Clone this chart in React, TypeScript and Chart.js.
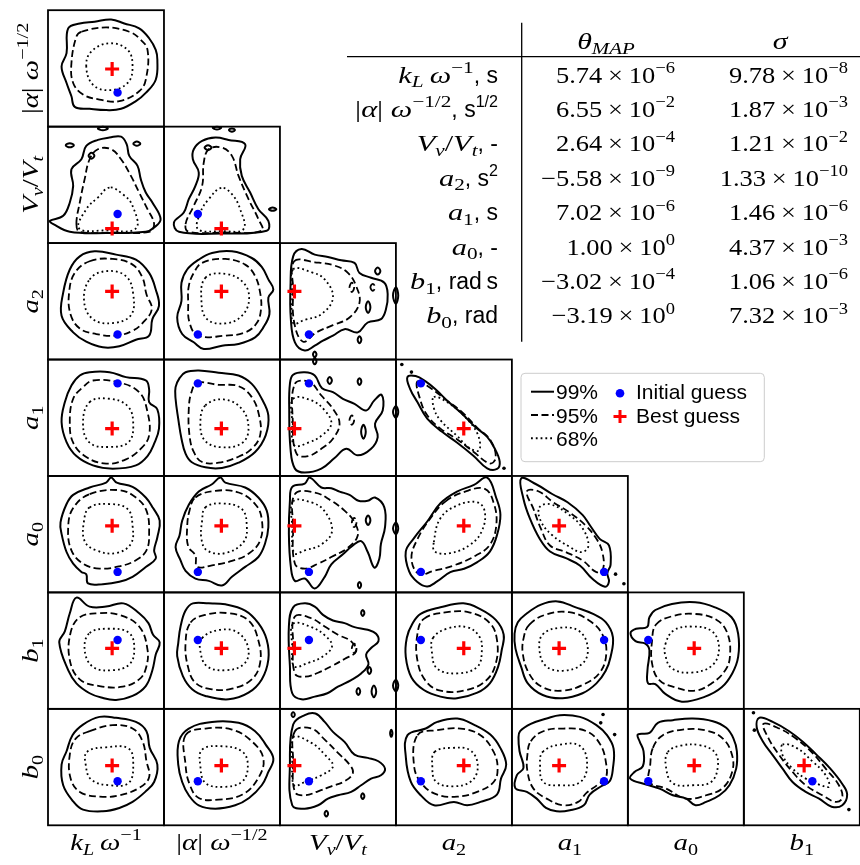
import React, { useEffect, useRef } from 'react';
import { Chart, registerables } from 'chart.js';
Chart.register(...registerables);

// ---------------- data (normalised panel coordinates, u → right, v → up) ----------------
// parameter order: kL, alpha, VvVt, a2, a1, a0, b1, b0
const bestPos = [0.553, 0.495, 0.125, 0.585, 0.407, 0.572, 0.52, 0.513];
const initPos = [0.6, 0.292, 0.25, 0.215, 0.795, 0.176, 0.591, 0.378];

const thetaMAP = [5.74e-6, 6.55e-2, 2.64e-4, -5.58e-9, 7.02e-6, 1.0e0, -3.02e-4, -3.19e0];
const sigmaVal = [9.78e-8, 1.87e-3, 1.21e-2, 1.33e-10, 1.46e-6, 4.37e-3, 1.06e-6, 7.32e-3];
const legendLevels = ['99%', '95%', '68%'];
const legendMarkers = ['Initial guess', 'Best guess'];

// row 0 : |alpha| vs kL
const alpha_kL_99 = [0.544,0.92, 0.658,0.886, 0.786,0.844, 0.872,0.759, 0.929,0.659, 0.943,0.574, 0.929,0.403, 0.843,0.29, 0.758,0.219, 0.63,0.153, 0.501,0.142, 0.359,0.153, 0.231,0.17, 0.202,0.261, 0.16,0.375, 0.117,0.517, 0.16,0.631, 0.174,0.844, 0.274,0.886, 0.402,0.901];
const alpha_kL_95 = [0.288,0.815, 0.501,0.852, 0.701,0.815, 0.786,0.759, 0.858,0.659, 0.843,0.403, 0.786,0.304, 0.615,0.219, 0.444,0.233, 0.302,0.276, 0.217,0.375, 0.202,0.545, 0.245,0.773];
const alpha_kL_68 = [0.33,0.517, 0.373,0.645, 0.53,0.716, 0.687,0.659, 0.729,0.517, 0.687,0.375, 0.53,0.313, 0.387,0.361];

// row 1 : Vv/Vt
const VvVt_kL_99 = [0.017,0.191, 0.131,0.234, 0.188,0.349, 0.217,0.491, 0.202,0.634, 0.288,0.72, 0.33,0.834, 0.43,0.886, 0.53,0.906, 0.63,0.914, 0.678,0.849, 0.701,0.749, 0.772,0.663, 0.8,0.549, 0.843,0.434, 0.9,0.349, 0.971,0.206, 0.915,0.134, 0.843,0.097, 0.5,0.086, 0.188,0.097, 0.046,0.163];
const VvVt_kL_95 = [0.245,0.163, 0.274,0.349, 0.316,0.549, 0.359,0.72, 0.43,0.806, 0.544,0.806, 0.63,0.72, 0.715,0.577, 0.786,0.434, 0.858,0.291, 0.915,0.163, 0.872,0.097, 0.558,0.091, 0.274,0.097];
const VvVt_kL_68 = [0.53,0.477, 0.43,0.391, 0.33,0.291, 0.268,0.126, 0.501,0.109, 0.758,0.126, 0.729,0.32, 0.644,0.42];
const VvVt_kL_isl = [
  [0.153,0.84, 0.188,0.858, 0.223,0.84, 0.188,0.822],
  [0.736,0.854, 0.766,0.872, 0.796,0.854, 0.766,0.836],
  [0.43,0.985, 0.473,1.0, 0.516,0.985, 0.473,0.968],
  [0.35,0.75, 0.375,0.775, 0.4,0.75, 0.375,0.725],
];
const VvVt_alpha_99 = [0.086,0.177, 0.171,0.263, 0.214,0.377, 0.271,0.491, 0.3,0.606, 0.249,0.72, 0.257,0.806, 0.329,0.877, 0.443,0.906, 0.557,0.886, 0.7,0.849, 0.657,0.72, 0.671,0.577, 0.743,0.434, 0.814,0.291, 0.9,0.191, 0.886,0.106, 0.5,0.083, 0.129,0.097];
const VvVt_alpha_95 = [0.186,0.163, 0.257,0.32, 0.329,0.491, 0.343,0.691, 0.386,0.806, 0.5,0.82, 0.586,0.749, 0.643,0.577, 0.729,0.377, 0.814,0.206, 0.843,0.106, 0.5,0.091, 0.214,0.097];
const VvVt_alpha_68 = [0.494,0.474, 0.386,0.377, 0.314,0.263, 0.294,0.12, 0.5,0.103, 0.686,0.12, 0.657,0.291, 0.586,0.42];
const VvVt_alpha_isl = [
  [0.42,0.99, 0.457,1.0, 0.494,0.99, 0.457,0.975],
  [0.56,0.971, 0.586,0.985, 0.612,0.971, 0.586,0.957],
  [0.905,0.291, 0.937,0.305, 0.969,0.291, 0.937,0.277],
  [0.35,0.82, 0.38,0.84, 0.41,0.82, 0.38,0.8],
];

// row 2 : a2
const a2_kL_99 = [0.402,0.929, 0.587,0.901, 0.758,0.858, 0.872,0.744, 0.929,0.602, 0.957,0.46, 0.9,0.347, 0.872,0.205, 0.758,0.17, 0.615,0.114, 0.473,0.105, 0.33,0.153, 0.217,0.233, 0.117,0.375, 0.131,0.574, 0.188,0.773, 0.274,0.886];
const a2_kL_95 = [0.359,0.844, 0.558,0.864, 0.729,0.815, 0.815,0.702, 0.849,0.56, 0.895,0.432, 0.815,0.313, 0.729,0.247, 0.587,0.205, 0.416,0.219, 0.274,0.267, 0.194,0.389, 0.182,0.574, 0.231,0.744];
const a2_kL_68 = [0.359,0.688, 0.501,0.759, 0.672,0.716, 0.735,0.56, 0.715,0.381, 0.558,0.313, 0.387,0.347, 0.311,0.503];
const a2_alpha_99 = [0.414,0.915, 0.586,0.929, 0.757,0.872, 0.843,0.795, 0.9,0.688, 0.943,0.602, 0.9,0.531, 0.909,0.389, 0.857,0.276, 0.786,0.19, 0.643,0.134, 0.5,0.119, 0.343,0.091, 0.257,0.148, 0.157,0.219, 0.114,0.361, 0.151,0.503, 0.151,0.659, 0.2,0.773, 0.3,0.858];
const a2_alpha_95 = [0.329,0.83, 0.529,0.864, 0.7,0.815, 0.786,0.716, 0.829,0.574, 0.837,0.432, 0.8,0.313, 0.7,0.233, 0.529,0.205, 0.294,0.205, 0.22,0.318, 0.209,0.489, 0.214,0.631, 0.257,0.744];
const a2_alpha_68 = [0.357,0.702, 0.529,0.736, 0.686,0.659, 0.734,0.517, 0.671,0.375, 0.529,0.31, 0.371,0.347, 0.323,0.503];
const a2_VvVt_99 = [0.114,0.886, 0.186,0.949, 0.3,0.901, 0.414,0.881, 0.529,0.852, 0.643,0.83, 0.686,0.744, 0.786,0.702, 0.9,0.659, 0.929,0.56, 0.914,0.432, 0.871,0.347, 0.757,0.318, 0.671,0.233, 0.557,0.261, 0.457,0.205, 0.371,0.162, 0.3,0.119, 0.214,0.077, 0.129,0.148, 0.094,0.347, 0.091,0.631];
const a2_VvVt_95 = [0.123,0.844, 0.3,0.835, 0.471,0.807, 0.586,0.744, 0.657,0.631, 0.686,0.489, 0.6,0.361, 0.457,0.295, 0.314,0.233, 0.2,0.153, 0.123,0.318, 0.114,0.602];
const a2_VvVt_68 = [0.114,0.773, 0.271,0.75, 0.386,0.688, 0.457,0.531, 0.357,0.389, 0.214,0.341, 0.114,0.313, 0.106,0.545];
const a2_VvVt_isl = [
  [0.82,0.76, 0.843,0.79, 0.866,0.76, 0.843,0.73],
  [0.67,0.17, 0.686,0.2, 0.702,0.17, 0.686,0.14],
  [0.285,0.045, 0.3,0.07, 0.315,0.045, 0.3,0.02],
  [0.975,0.55, 1.0,0.62, 1.02,0.55, 1.0,0.48],
  [0.74,0.45, 0.76,0.5, 0.78,0.45, 0.76,0.4],
];
const a2_VvVt_dash = [
  [0.6,0.62, 0.62,0.66, 0.64,0.62, 0.62,0.58],
  [0.78,0.62, 0.8,0.65, 0.82,0.62, 0.8,0.59],
];

// row 3 : a1
const a1_kL_99 = [0.359,0.891, 0.53,0.891, 0.672,0.849, 0.843,0.82, 0.872,0.743, 0.872,0.634, 0.943,0.571, 0.957,0.406, 0.915,0.277, 0.858,0.171, 0.758,0.091, 0.558,0.063, 0.387,0.091, 0.245,0.171, 0.16,0.291, 0.117,0.463, 0.145,0.634, 0.202,0.777, 0.274,0.863];
const a1_kL_95 = [0.387,0.82, 0.601,0.806, 0.786,0.72, 0.858,0.549, 0.872,0.349, 0.801,0.234, 0.672,0.143, 0.501,0.106, 0.33,0.163, 0.217,0.286, 0.188,0.463, 0.217,0.663, 0.302,0.763];
const a1_kL_68 = [0.359,0.634, 0.53,0.663, 0.687,0.6, 0.735,0.449, 0.695,0.291, 0.53,0.249, 0.359,0.286, 0.302,0.449];
const a1_alpha_99 = [0.186,0.891, 0.3,0.906, 0.471,0.886, 0.643,0.863, 0.757,0.791, 0.843,0.663, 0.9,0.52, 0.877,0.349, 0.786,0.206, 0.643,0.114, 0.5,0.069, 0.357,0.074, 0.237,0.12, 0.186,0.191, 0.151,0.32, 0.123,0.491, 0.1,0.663, 0.1,0.763, 0.134,0.84];
const a1_alpha_95 = [0.286,0.8, 0.471,0.783, 0.643,0.771, 0.757,0.677, 0.82,0.52, 0.829,0.349, 0.757,0.234, 0.637,0.163, 0.471,0.114, 0.329,0.12, 0.257,0.206, 0.22,0.349, 0.214,0.577, 0.237,0.72];
const a1_alpha_68 = [0.357,0.606, 0.514,0.657, 0.671,0.577, 0.729,0.411, 0.677,0.286, 0.5,0.246, 0.351,0.306, 0.314,0.463];
const a1_VvVt_99 = [0.114,0.869, 0.214,0.891, 0.3,0.863, 0.363,0.754, 0.457,0.72, 0.543,0.663, 0.643,0.62, 0.743,0.563, 0.814,0.649, 0.877,0.697, 0.886,0.563, 0.82,0.449, 0.843,0.334, 0.786,0.234, 0.671,0.177, 0.571,0.234, 0.471,0.154, 0.357,0.063, 0.214,0.029, 0.129,0.063, 0.091,0.234, 0.08,0.577, 0.086,0.791];
const a1_VvVt_95 = [0.129,0.791, 0.257,0.806, 0.357,0.691, 0.457,0.577, 0.514,0.449, 0.457,0.32, 0.357,0.234, 0.243,0.171, 0.143,0.191, 0.111,0.463];
const a1_VvVt_68 = [0.114,0.663, 0.271,0.649, 0.386,0.563, 0.443,0.449, 0.363,0.349, 0.243,0.286, 0.123,0.263, 0.106,0.463];
const a1_VvVt_isl = [
  [0.41,0.82, 0.429,0.85, 0.448,0.82, 0.429,0.79],
  [0.67,0.811, 0.686,0.84, 0.702,0.811, 0.686,0.782],
  [0.285,0.985, 0.3,1.01, 0.315,0.985, 0.3,0.96],
  [0.7,0.38, 0.72,0.44, 0.74,0.38, 0.72,0.32],
  [0.975,0.55, 1.0,0.6, 1.02,0.55, 1.0,0.5],
];
const a1_VvVt_dash = [[0.6,0.48, 0.62,0.52, 0.64,0.48, 0.62,0.44]];
const a1_a2_99 = [0.099,0.849, 0.17,0.858, 0.256,0.812, 0.341,0.744, 0.455,0.635, 0.568,0.536, 0.682,0.422, 0.787,0.336, 0.852,0.236, 0.895,0.123, 0.872,0.06, 0.787,0.066, 0.668,0.174, 0.526,0.288, 0.398,0.379, 0.27,0.493, 0.185,0.635, 0.122,0.749];
const a1_a2_95 = [0.185,0.812, 0.298,0.755, 0.426,0.658, 0.568,0.55, 0.702,0.413, 0.815,0.308, 0.861,0.157, 0.81,0.108, 0.668,0.208, 0.526,0.316, 0.384,0.407, 0.27,0.521, 0.207,0.664];
const a1_a2_68 = [0.327,0.678, 0.44,0.635, 0.582,0.521, 0.702,0.365, 0.719,0.222, 0.639,0.236, 0.526,0.345, 0.384,0.479, 0.327,0.584];
const a1_a2_dots = [0.051,0.957, 0.134,0.892, 0.932,0.066];

// row 4 : a0
const a0_kL_99 = [0.544,0.986, 0.593,0.943, 0.729,0.906, 0.843,0.815, 0.906,0.724, 0.963,0.616, 0.943,0.474, 0.915,0.361, 0.929,0.29, 0.843,0.219, 0.729,0.134, 0.615,0.091, 0.473,0.071, 0.345,0.077, 0.33,0.156, 0.288,0.176, 0.217,0.247, 0.16,0.347, 0.117,0.503, 0.108,0.602, 0.16,0.759, 0.217,0.838, 0.359,0.901, 0.501,0.943];
const a0_kL_95 = [0.359,0.844, 0.615,0.878, 0.758,0.815, 0.849,0.702, 0.872,0.503, 0.849,0.361, 0.758,0.276, 0.615,0.224, 0.444,0.205, 0.302,0.247, 0.202,0.361, 0.174,0.56, 0.217,0.724];
const a0_kL_68 = [0.359,0.73, 0.53,0.759, 0.687,0.716, 0.729,0.574, 0.715,0.418, 0.587,0.338, 0.416,0.361, 0.316,0.44, 0.311,0.616];
const a0_alpha_99 = [0.486,0.986, 0.529,0.943, 0.7,0.901, 0.814,0.815, 0.886,0.702, 0.9,0.56, 0.871,0.418, 0.814,0.304, 0.7,0.219, 0.586,0.134, 0.5,0.06, 0.386,0.099, 0.271,0.119, 0.186,0.185, 0.143,0.276, 0.1,0.389, 0.134,0.489, 0.157,0.616, 0.214,0.753, 0.3,0.866, 0.414,0.929];
const a0_alpha_95 = [0.271,0.815, 0.443,0.872, 0.643,0.858, 0.786,0.759, 0.843,0.631, 0.829,0.446, 0.729,0.332, 0.586,0.27, 0.414,0.233, 0.286,0.219, 0.271,0.318, 0.209,0.395, 0.2,0.56, 0.22,0.702];
const a0_alpha_68 = [0.357,0.73, 0.5,0.764, 0.671,0.716, 0.714,0.574, 0.686,0.432, 0.529,0.338, 0.371,0.361, 0.323,0.46, 0.329,0.616];
const a0_VvVt_99 = [0.106,0.906, 0.214,0.935, 0.257,0.986, 0.357,0.901, 0.443,0.895, 0.514,0.866, 0.6,0.838, 0.677,0.787, 0.757,0.787, 0.82,0.815, 0.9,0.73, 0.906,0.56, 0.871,0.418, 0.857,0.29, 0.814,0.213, 0.757,0.347, 0.7,0.44, 0.629,0.403, 0.543,0.327, 0.443,0.241, 0.386,0.134, 0.3,0.034, 0.214,0.119, 0.129,0.099, 0.094,0.219, 0.077,0.503, 0.086,0.787];
const a0_VvVt_95 = [0.129,0.844, 0.3,0.858, 0.443,0.787, 0.557,0.702, 0.643,0.602, 0.671,0.489, 0.586,0.384, 0.443,0.304, 0.329,0.247, 0.214,0.205, 0.129,0.247, 0.114,0.56];
const a0_VvVt_68 = [0.114,0.781, 0.271,0.773, 0.386,0.696, 0.449,0.526, 0.357,0.412, 0.214,0.361, 0.123,0.338, 0.106,0.56];
const a0_VvVt_isl = [
  [0.672,0.063, 0.686,0.09, 0.7,0.063, 0.686,0.036],
  [0.975,0.55, 1.0,0.6, 1.02,0.55, 1.0,0.5],
  [0.74,0.62, 0.76,0.66, 0.78,0.62, 0.76,0.58],
];
const a0_VvVt_dash = [[0.62,0.6, 0.64,0.64, 0.66,0.6, 0.64,0.56]];
const a0_a2_99 = [0.787,0.986, 0.866,0.809, 0.901,0.666, 0.872,0.494, 0.81,0.351, 0.702,0.26, 0.588,0.203, 0.469,0.174, 0.355,0.094, 0.27,0.051, 0.185,0.089, 0.114,0.18, 0.085,0.351, 0.156,0.466, 0.27,0.609, 0.384,0.766, 0.526,0.866, 0.673,0.923];
const a0_a2_95 = [0.426,0.78, 0.597,0.866, 0.767,0.889, 0.844,0.766, 0.866,0.58, 0.81,0.409, 0.69,0.317, 0.497,0.231, 0.327,0.186, 0.199,0.157, 0.134,0.294, 0.19,0.466, 0.298,0.637];
const a0_a2_68 = [0.327,0.431, 0.384,0.637, 0.526,0.746, 0.702,0.774, 0.767,0.689, 0.739,0.523, 0.639,0.409, 0.469,0.337, 0.335,0.351];
const a0_a1_99 = [0.08,0.98, 0.209,0.929, 0.351,0.843, 0.48,0.774, 0.609,0.666, 0.68,0.566, 0.757,0.46, 0.837,0.403, 0.851,0.237, 0.823,0.166, 0.837,0.094, 0.803,0.049, 0.694,0.117, 0.586,0.231, 0.466,0.294, 0.329,0.351, 0.237,0.466, 0.157,0.631, 0.1,0.803];
const a0_a1_95 = [0.129,0.866, 0.223,0.871, 0.357,0.774, 0.494,0.689, 0.637,0.574, 0.729,0.46, 0.78,0.346, 0.786,0.203, 0.729,0.174, 0.614,0.271, 0.466,0.346, 0.329,0.403, 0.251,0.546, 0.186,0.717];
const a0_a1_68 = [0.237,0.729, 0.329,0.757, 0.494,0.666, 0.609,0.551, 0.66,0.403, 0.603,0.346, 0.494,0.394, 0.351,0.489, 0.251,0.609];
const a0_a1_dots = [0.894,0.157, 0.966,0.074];

// row 5 : b1
const b1_kL_99 = [0.245,0.955, 0.359,0.878, 0.501,0.878, 0.65,0.906, 0.786,0.821, 0.866,0.736, 0.906,0.636, 0.963,0.571, 0.929,0.466, 0.9,0.332, 0.843,0.196, 0.729,0.111, 0.587,0.077, 0.459,0.097, 0.359,0.134, 0.245,0.219, 0.174,0.332, 0.097,0.571, 0.145,0.665, 0.188,0.821];
const b1_kL_95 = [0.274,0.787, 0.444,0.821, 0.615,0.807, 0.786,0.707, 0.858,0.509, 0.843,0.344, 0.786,0.253, 0.644,0.19, 0.444,0.196, 0.274,0.253, 0.188,0.418, 0.194,0.651];
const b1_kL_68 = [0.359,0.651, 0.53,0.688, 0.701,0.651, 0.744,0.509, 0.701,0.381, 0.558,0.332, 0.387,0.361, 0.316,0.509];
const b1_alpha_99 = [0.249,0.906, 0.386,0.906, 0.529,0.898, 0.7,0.844, 0.814,0.736, 0.886,0.594, 0.9,0.423, 0.843,0.253, 0.729,0.139, 0.557,0.082, 0.357,0.111, 0.243,0.168, 0.163,0.281, 0.114,0.452, 0.123,0.565, 0.143,0.707, 0.186,0.844];
const b1_alpha_95 = [0.229,0.741, 0.357,0.807, 0.557,0.821, 0.729,0.759, 0.814,0.588, 0.829,0.395, 0.757,0.253, 0.586,0.173, 0.414,0.168, 0.271,0.224, 0.206,0.366, 0.186,0.565];
const b1_alpha_68 = [0.329,0.608, 0.486,0.679, 0.643,0.651, 0.729,0.509, 0.686,0.381, 0.529,0.332, 0.371,0.366, 0.314,0.494];
const b1_VvVt_99 = [0.114,0.872, 0.214,0.906, 0.3,0.878, 0.371,0.807, 0.457,0.759, 0.557,0.736, 0.643,0.702, 0.757,0.679, 0.829,0.645, 0.849,0.58, 0.786,0.523, 0.743,0.466, 0.763,0.381, 0.7,0.304, 0.614,0.247, 0.5,0.19, 0.409,0.134, 0.3,0.105, 0.186,0.082, 0.106,0.134, 0.086,0.366, 0.077,0.707];
const b1_VvVt_95 = [0.129,0.793, 0.271,0.778, 0.386,0.707, 0.5,0.636, 0.614,0.58, 0.657,0.494, 0.557,0.429, 0.443,0.366, 0.329,0.31, 0.214,0.276, 0.129,0.304, 0.114,0.565];
const b1_VvVt_68 = [0.114,0.73, 0.271,0.702, 0.391,0.628, 0.449,0.537, 0.363,0.446, 0.243,0.395, 0.123,0.366, 0.106,0.537];
const b1_VvVt_isl = [
  [0.7,0.824, 0.714,0.85, 0.728,0.824, 0.714,0.798],
  [0.755,0.33, 0.771,0.36, 0.787,0.33, 0.771,0.3],
  [0.66,0.15, 0.676,0.18, 0.692,0.15, 0.676,0.12],
  [0.79,0.15, 0.81,0.2, 0.83,0.15, 0.81,0.1],
  [0.975,0.2, 1.0,0.25, 1.02,0.2, 1.0,0.15],
];
const b1_VvVt_dash = [[0.62,0.52, 0.64,0.56, 0.66,0.52, 0.64,0.48]];
const b1_a2_99 = [0.213,0.815, 0.384,0.872, 0.582,0.906, 0.724,0.858, 0.861,0.764, 0.929,0.639, 0.912,0.503, 0.881,0.361, 0.81,0.219, 0.702,0.139, 0.526,0.091, 0.384,0.105, 0.241,0.162, 0.134,0.27, 0.085,0.446, 0.094,0.611, 0.142,0.73];
const b1_a2_95 = [0.241,0.773, 0.44,0.83, 0.639,0.827, 0.81,0.736, 0.872,0.588, 0.861,0.389, 0.781,0.247, 0.611,0.162, 0.384,0.156, 0.256,0.241, 0.185,0.418, 0.185,0.639];
const b1_a2_68 = [0.321,0.611, 0.44,0.688, 0.611,0.702, 0.719,0.622, 0.741,0.503, 0.702,0.361, 0.526,0.304, 0.355,0.347, 0.31,0.489];
const b1_a1_99 = [0.123,0.815, 0.251,0.895, 0.394,0.923, 0.551,0.872, 0.7,0.815, 0.809,0.744, 0.871,0.616, 0.851,0.446, 0.809,0.327, 0.729,0.219, 0.609,0.134, 0.437,0.091, 0.266,0.119, 0.137,0.219, 0.08,0.361, 0.031,0.517, 0.023,0.645, 0.051,0.744];
const b1_a1_95 = [0.151,0.724, 0.294,0.81, 0.494,0.83, 0.666,0.759, 0.78,0.639, 0.814,0.474, 0.757,0.31, 0.609,0.205, 0.437,0.156, 0.266,0.185, 0.151,0.298, 0.094,0.474, 0.103,0.616];
const b1_a1_68 = [0.266,0.639, 0.409,0.696, 0.58,0.668, 0.654,0.526, 0.609,0.389, 0.437,0.327, 0.289,0.372, 0.237,0.517];
const b1_a0_99 = [0.237,0.849, 0.38,0.901, 0.58,0.915, 0.751,0.872, 0.894,0.787, 0.951,0.645, 0.951,0.446, 0.9,0.304, 0.809,0.185, 0.666,0.105, 0.466,0.062, 0.323,0.128, 0.237,0.213, 0.174,0.219, 0.169,0.332, 0.186,0.503, 0.151,0.56, 0.066,0.582, 0.023,0.651, 0.071,0.688, 0.166,0.702, 0.186,0.787];
const b1_a0_95 = [0.243,0.724, 0.38,0.795, 0.58,0.815, 0.766,0.764, 0.86,0.645, 0.88,0.446, 0.837,0.327, 0.723,0.219, 0.58,0.156, 0.409,0.185, 0.271,0.247, 0.209,0.389, 0.209,0.588];
const b1_a0_68 = [0.323,0.554, 0.394,0.673, 0.551,0.707, 0.723,0.668, 0.786,0.526, 0.729,0.375, 0.551,0.312, 0.38,0.347, 0.323,0.46];

// row 6 : b0
const b0_kL_99 = [0.302,0.865, 0.444,0.931, 0.587,0.923, 0.758,0.888, 0.849,0.808, 0.877,0.665, 0.943,0.521, 0.915,0.372, 0.838,0.287, 0.729,0.201, 0.615,0.149, 0.473,0.12, 0.302,0.135, 0.217,0.206, 0.131,0.344, 0.117,0.521, 0.16,0.636, 0.211,0.774];
const b0_kL_95 = [0.359,0.808, 0.558,0.86, 0.729,0.831, 0.815,0.722, 0.849,0.55, 0.872,0.413, 0.786,0.321, 0.615,0.258, 0.444,0.246, 0.274,0.287, 0.194,0.407, 0.188,0.607, 0.239,0.745];
const b0_kL_68 = [0.336,0.63, 0.501,0.67, 0.695,0.659, 0.735,0.521, 0.695,0.364, 0.53,0.344, 0.373,0.393, 0.325,0.521];
const b0_alpha_99 = [0.214,0.831, 0.414,0.888, 0.643,0.88, 0.786,0.808, 0.877,0.693, 0.943,0.573, 0.9,0.458, 0.843,0.344, 0.734,0.235, 0.614,0.172, 0.443,0.143, 0.3,0.172, 0.214,0.258, 0.157,0.372, 0.123,0.521, 0.129,0.722];
const b0_alpha_95 = [0.186,0.774, 0.357,0.831, 0.586,0.822, 0.757,0.722, 0.857,0.573, 0.814,0.407, 0.677,0.264, 0.471,0.221, 0.3,0.235, 0.22,0.355, 0.186,0.521];
const b0_alpha_68 = [0.329,0.65, 0.5,0.679, 0.671,0.636, 0.723,0.521, 0.677,0.378, 0.514,0.33, 0.357,0.364, 0.314,0.507];
const b0_VvVt_99 = [0.114,0.865, 0.214,0.946, 0.306,0.96, 0.386,0.888, 0.457,0.802, 0.557,0.716, 0.643,0.607, 0.757,0.579, 0.849,0.55, 0.906,0.487, 0.871,0.43, 0.786,0.401, 0.7,0.344, 0.614,0.287, 0.5,0.258, 0.414,0.229, 0.329,0.172, 0.214,0.143, 0.106,0.172, 0.086,0.521];
const b0_VvVt_95 = [0.129,0.808, 0.271,0.831, 0.386,0.736, 0.5,0.622, 0.6,0.521, 0.629,0.45, 0.557,0.378, 0.443,0.335, 0.329,0.292, 0.214,0.258, 0.129,0.287, 0.114,0.55];
const b0_VvVt_68 = [0.114,0.756, 0.271,0.708, 0.386,0.607, 0.457,0.507, 0.357,0.43, 0.214,0.372, 0.123,0.344, 0.106,0.55];
const b0_VvVt_isl = [
  [0.1,0.95, 0.114,0.97, 0.128,0.95, 0.114,0.93],
  [0.385,0.1, 0.4,0.125, 0.415,0.1, 0.4,0.075],
  [0.7,0.25, 0.714,0.275, 0.728,0.25, 0.714,0.225],
  [0.95,0.79, 0.96,0.82, 0.97,0.79, 0.96,0.76],
];
const b0_a2_99 = [0.1,0.774, 0.257,0.831, 0.357,0.888, 0.529,0.917, 0.671,0.865, 0.814,0.779, 0.9,0.665, 0.951,0.521, 0.906,0.401, 0.871,0.264, 0.729,0.201, 0.614,0.172, 0.5,0.201, 0.329,0.172, 0.214,0.258, 0.129,0.372, 0.086,0.579];
const b0_a2_95 = [0.186,0.774, 0.357,0.817, 0.557,0.831, 0.729,0.774, 0.843,0.63, 0.877,0.487, 0.843,0.372, 0.7,0.287, 0.529,0.246, 0.357,0.264, 0.229,0.35, 0.157,0.507];
const b0_a2_68 = [0.334,0.63, 0.486,0.665, 0.643,0.642, 0.706,0.507, 0.649,0.378, 0.486,0.335, 0.343,0.378, 0.314,0.507];
const b0_a1_99 = [0.071,0.808, 0.163,0.871, 0.3,0.917, 0.414,0.946, 0.586,0.931, 0.729,0.86, 0.82,0.774, 0.877,0.659, 0.871,0.487, 0.843,0.378, 0.771,0.335, 0.671,0.264, 0.62,0.172, 0.5,0.129, 0.386,0.12, 0.294,0.149, 0.214,0.229, 0.129,0.287, 0.029,0.321, 0.043,0.43, 0.1,0.493, 0.066,0.636, 0.057,0.751];
const b0_a1_95 = [0.163,0.722, 0.271,0.808, 0.443,0.831, 0.643,0.808, 0.763,0.693, 0.814,0.521, 0.809,0.407, 0.734,0.344, 0.643,0.278, 0.571,0.201, 0.443,0.172, 0.3,0.229, 0.186,0.315, 0.134,0.464, 0.134,0.607];
const b0_a1_68 = [0.266,0.63, 0.414,0.693, 0.591,0.679, 0.649,0.521, 0.591,0.372, 0.414,0.344, 0.271,0.372, 0.243,0.521];
const b0_a1_dots = [0.786,0.951, 0.766,0.88, 0.886,0.779];
const b0_a0_99 = [0.086,0.779, 0.187,0.794, 0.259,0.88, 0.388,0.903, 0.56,0.917, 0.733,0.894, 0.848,0.837, 0.911,0.745, 0.94,0.636, 0.934,0.487, 0.876,0.344, 0.79,0.258, 0.675,0.201, 0.583,0.172, 0.503,0.229, 0.388,0.258, 0.273,0.315, 0.158,0.35, 0.02,0.401, 0.057,0.458, 0.129,0.507, 0.135,0.636, 0.101,0.722];
const b0_a0_95 = [0.216,0.665, 0.302,0.774, 0.474,0.822, 0.675,0.814, 0.819,0.745, 0.899,0.602, 0.899,0.458, 0.819,0.321, 0.675,0.258, 0.503,0.229, 0.33,0.315, 0.187,0.372, 0.193,0.521];
const b0_a0_68 = [0.345,0.63, 0.46,0.685, 0.618,0.688, 0.747,0.63, 0.776,0.507, 0.718,0.372, 0.56,0.344, 0.388,0.361, 0.33,0.493];
const b0_b1_99 = [0.134,0.923, 0.249,0.888, 0.391,0.808, 0.511,0.716, 0.626,0.607, 0.74,0.493, 0.849,0.355, 0.891,0.264, 0.849,0.172, 0.757,0.16, 0.649,0.229, 0.534,0.287, 0.42,0.372, 0.334,0.487, 0.249,0.602, 0.163,0.722, 0.111,0.842];
const b0_b1_95 = [0.169,0.871, 0.306,0.831, 0.449,0.745, 0.591,0.622, 0.706,0.487, 0.82,0.344, 0.849,0.235, 0.791,0.201, 0.677,0.258, 0.534,0.344, 0.42,0.458, 0.306,0.602, 0.214,0.745];
const b0_b1_68 = [0.334,0.693, 0.454,0.665, 0.591,0.55, 0.706,0.43, 0.734,0.332, 0.649,0.35, 0.534,0.401, 0.42,0.487, 0.334,0.602];
const b0_b1_dots = [0.083,0.966, 0.091,0.817, 0.906,0.135];

type Panel = { r: number; c: number; s: number[][]; d: number[][]; o: number[][]; k?: number[] };
const PANELS: Panel[] = [
  { r: 0, c: 0, s: [alpha_kL_99], d: [alpha_kL_95], o: [alpha_kL_68] },
  { r: 1, c: 0, s: [VvVt_kL_99, ...VvVt_kL_isl], d: [VvVt_kL_95], o: [VvVt_kL_68] },
  { r: 1, c: 1, s: [VvVt_alpha_99, ...VvVt_alpha_isl], d: [VvVt_alpha_95], o: [VvVt_alpha_68] },
  { r: 2, c: 0, s: [a2_kL_99], d: [a2_kL_95], o: [a2_kL_68] },
  { r: 2, c: 1, s: [a2_alpha_99], d: [a2_alpha_95], o: [a2_alpha_68] },
  { r: 2, c: 2, s: [a2_VvVt_99, ...a2_VvVt_isl], d: [a2_VvVt_95, ...a2_VvVt_dash], o: [a2_VvVt_68] },
  { r: 3, c: 0, s: [a1_kL_99], d: [a1_kL_95], o: [a1_kL_68] },
  { r: 3, c: 1, s: [a1_alpha_99], d: [a1_alpha_95], o: [a1_alpha_68] },
  { r: 3, c: 2, s: [a1_VvVt_99, ...a1_VvVt_isl], d: [a1_VvVt_95, ...a1_VvVt_dash], o: [a1_VvVt_68] },
  { r: 3, c: 3, s: [a1_a2_99], d: [a1_a2_95], o: [a1_a2_68], k: a1_a2_dots },
  { r: 4, c: 0, s: [a0_kL_99], d: [a0_kL_95], o: [a0_kL_68] },
  { r: 4, c: 1, s: [a0_alpha_99], d: [a0_alpha_95], o: [a0_alpha_68] },
  { r: 4, c: 2, s: [a0_VvVt_99, ...a0_VvVt_isl], d: [a0_VvVt_95, ...a0_VvVt_dash], o: [a0_VvVt_68] },
  { r: 4, c: 3, s: [a0_a2_99], d: [a0_a2_95], o: [a0_a2_68] },
  { r: 4, c: 4, s: [a0_a1_99], d: [a0_a1_95], o: [a0_a1_68], k: a0_a1_dots },
  { r: 5, c: 0, s: [b1_kL_99], d: [b1_kL_95], o: [b1_kL_68] },
  { r: 5, c: 1, s: [b1_alpha_99], d: [b1_alpha_95], o: [b1_alpha_68] },
  { r: 5, c: 2, s: [b1_VvVt_99, ...b1_VvVt_isl], d: [b1_VvVt_95, ...b1_VvVt_dash], o: [b1_VvVt_68] },
  { r: 5, c: 3, s: [b1_a2_99], d: [b1_a2_95], o: [b1_a2_68] },
  { r: 5, c: 4, s: [b1_a1_99], d: [b1_a1_95], o: [b1_a1_68] },
  { r: 5, c: 5, s: [b1_a0_99], d: [b1_a0_95], o: [b1_a0_68] },
  { r: 6, c: 0, s: [b0_kL_99], d: [b0_kL_95], o: [b0_kL_68] },
  { r: 6, c: 1, s: [b0_alpha_99], d: [b0_alpha_95], o: [b0_alpha_68] },
  { r: 6, c: 2, s: [b0_VvVt_99, ...b0_VvVt_isl], d: [b0_VvVt_95], o: [b0_VvVt_68] },
  { r: 6, c: 3, s: [b0_a2_99], d: [b0_a2_95], o: [b0_a2_68] },
  { r: 6, c: 4, s: [b0_a1_99], d: [b0_a1_95], o: [b0_a1_68], k: b0_a1_dots },
  { r: 6, c: 5, s: [b0_a0_99], d: [b0_a0_95], o: [b0_a0_68] },
  { r: 6, c: 6, s: [b0_b1_99], d: [b0_b1_95], o: [b0_b1_68], k: b0_b1_dots },
];

// ---------------- rich text ----------------
type Seg = { t: string; f: string; k?: number; dy?: number; w?: number };
const mi = (t: string): Seg => ({ t, f: 'mi' });
const rm = (t: string): Seg => ({ t, f: 'rm' });
const sf = (t: string): Seg => ({ t, f: 'sf' });
const sp = (w: number): Seg => ({ t: '', f: 'sp', w });
const sub = (s: Seg): Seg => ({ ...s, k: 0.7, dy: 0.2 });
const sup = (s: Seg): Seg => ({ ...s, k: 0.7, dy: -0.42 });

const paramLabels: Seg[][] = [
  [mi('k'), sub(mi('L')), sp(0.2), mi('ω'), sup(rm('−1'))],
  [rm('|'), mi('α'), rm('|'), sp(0.25), mi('ω'), sup(rm('−1/2'))],
  [mi('V'), sub(mi('v')), rm('/'), mi('V'), sub(mi('t'))],
  [mi('a'), sub(rm('2'))],
  [mi('a'), sub(rm('1'))],
  [mi('a'), sub(rm('0'))],
  [mi('b'), sub(rm('1'))],
  [mi('b'), sub(rm('0'))],
];
const unitLabels: Seg[][] = [
  [sf(', s')],
  [sf(', s'), sup(sf('1/2'))],
  [sf(', -')],
  [sf(', s'), sup(sf('2'))],
  [sf(', s')],
  [sf(', -')],
  [sf(', rad\u2009s')],
  [sf(', rad')],
];

function segFont(s: Seg, size: number) {
  const px = size * (s.k ?? 1);
  if (s.f === 'mi') return `italic ${px}px "Liberation Serif"`;
  if (s.f === 'rm') return `${px}px "Liberation Serif"`;
  return `${px}px "Liberation Sans"`;
}
function segW(ctx: CanvasRenderingContext2D, s: Seg, size: number, sx: number) {
  if (s.f === 'sp') return (s.w ?? 0) * size * sx;
  ctx.font = segFont(s, size);
  return ctx.measureText(s.t).width * (s.f === 'sf' ? 1 : sx);
}
function drawRich(ctx: CanvasRenderingContext2D, segs: Seg[], x: number, y: number, size: number, align: string, sx: number) {
  const ws = segs.map((s) => segW(ctx, s, size, sx));
  const total = ws.reduce((a, b) => a + b, 0);
  let cx = align === 'right' ? x - total : align === 'center' ? x - total / 2 : x;
  ctx.textAlign = 'left';
  ctx.textBaseline = 'alphabetic';
  segs.forEach((s, i) => {
    if (s.f !== 'sp') {
      ctx.font = segFont(s, size);
      ctx.save();
      ctx.translate(cx, y + (s.dy ?? 0) * size);
      ctx.scale(s.f === 'sf' ? 1 : sx, 1);
      ctx.fillText(s.t, 0, 0);
      ctx.restore();
    }
    cx += ws[i];
  });
}
function sciSegs(v: number): Seg[] {
  const e = Math.floor(Math.log10(Math.abs(v)));
  const m = (v / Math.pow(10, e)).toFixed(2).replace('-', '−');
  return [rm(m), sp(0.22), rm('×'), sp(0.22), rm('10'), sup(rm(String(e).replace('-', '−')))];
}

// ---------------- overlay plugin ----------------
const overlay = {
  id: 'overlay',
  afterDatasetsDraw(chart: any) {
    const ctx: CanvasRenderingContext2D = chart.ctx;
    const xs = chart.scales.x;
    const ys = chart.scales.y;
    ctx.save();
    ctx.strokeStyle = '#000';
    ctx.lineWidth = 1.8;
    for (let r = 0; r < 7; r++) {
      for (let c = 0; c <= r; c++) {
        const x0 = xs.getPixelForValue(c);
        const x1 = xs.getPixelForValue(c + 1);
        const y0 = ys.getPixelForValue(7 - r);
        const y1 = ys.getPixelForValue(6 - r);
        ctx.strokeRect(x0, y0, x1 - x0, y1 - y0);
      }
    }
    ctx.restore();
  },
  afterDraw(chart: any) {
    const ctx: CanvasRenderingContext2D = chart.ctx;
    const xs = chart.scales.x;
    const ys = chart.scales.y;
    ctx.save();
    ctx.fillStyle = '#000';
    // x labels
    for (let c = 0; c < 7; c++) {
      drawRich(ctx, paramLabels[c], xs.getPixelForValue(c + 0.5), 850, 24, 'center', 1.2);
    }
    // y labels
    for (let r = 0; r < 7; r++) {
      ctx.save();
      ctx.translate(38, ys.getPixelForValue(6.5 - r));
      ctx.rotate(-Math.PI / 2);
      drawRich(ctx, paramLabels[r + 1], 0, 0, 24, 'center', 1.2);
      ctx.restore();
    }
    // table
    ctx.strokeStyle = '#000';
    ctx.lineWidth = 1.3;
    ctx.beginPath();
    ctx.moveTo(347, 56.7);
    ctx.lineTo(860, 56.7);
    ctx.moveTo(521.7, 22.7);
    ctx.lineTo(521.7, 341.7);
    ctx.stroke();
    drawRich(ctx, [mi('θ'), sub(mi('MAP'))], 606, 49, 23, 'center', 1.3);
    drawRich(ctx, [mi('σ')], 780, 49, 23, 'center', 1.3);
    for (let i = 0; i < 8; i++) {
      const yb = 82.7 + i * 34.37;
      drawRich(ctx, [...paramLabels[i], ...unitLabels[i]], 498, yb, 23, 'right', 1.32);
      drawRich(ctx, sciSegs(thetaMAP[i]), 675, yb, 23, 'right', 1.15);
      drawRich(ctx, sciSegs(sigmaVal[i]), 848, yb, 23, 'right', 1.15);
    }
    // legend
    ctx.beginPath();
    ctx.roundRect(521, 373.3, 243.3, 88.4, 4);
    ctx.fillStyle = 'rgba(255,255,255,0.8)';
    ctx.fill();
    ctx.strokeStyle = '#cccccc';
    ctx.lineWidth = 1;
    ctx.stroke();
    const dashes = [[], [7, 3.5], [1.8, 3]];
    const rowsY = [391.7, 415, 438.3];
    ctx.strokeStyle = '#000';
    ctx.lineWidth = 2;
    for (let i = 0; i < 3; i++) {
      ctx.setLineDash(dashes[i]);
      ctx.beginPath();
      ctx.moveTo(531, rowsY[i]);
      ctx.lineTo(554, rowsY[i]);
      ctx.stroke();
    }
    ctx.setLineDash([]);
    ctx.fillStyle = '#000';
    ctx.font = '21px "Liberation Sans"';
    ctx.textAlign = 'left';
    ctx.textBaseline = 'alphabetic';
    for (let i = 0; i < 3; i++) ctx.fillText(legendLevels[i], 556, rowsY[i] + 7.6);
    for (let i = 0; i < 2; i++) ctx.fillText(legendMarkers[i], 636, rowsY[i] + 7.6);
    ctx.fillStyle = '#0000ff';
    ctx.beginPath();
    ctx.arc(620, rowsY[0] + 1.5, 4.3, 0, Math.PI * 2);
    ctx.fill();
    ctx.strokeStyle = '#ff0000';
    ctx.lineWidth = 3;
    ctx.beginPath();
    ctx.moveTo(613.5, rowsY[1] + 1.5);
    ctx.lineTo(626.5, rowsY[1] + 1.5);
    ctx.moveTo(620, rowsY[1] - 5);
    ctx.lineTo(620, rowsY[1] + 8);
    ctx.stroke();
    ctx.restore();
  },
};

// ---------------- datasets ----------------
function loopDataset(flat: number[], r: number, c: number, kind: string) {
  const pts: { x: number; y: number }[] = [];
  for (let i = 0; i < flat.length; i += 2) pts.push({ x: c + flat[i], y: 6 - r + flat[i + 1] });
  const data = [pts[pts.length - 1], ...pts, pts[0], pts[1]];
  const n = data.length;
  return {
    data,
    showLine: true,
    borderColor: '#000000',
    backgroundColor: '#000000',
    borderWidth: kind === 's' ? 2 : 1.8,
    borderDash: kind === 'd' ? [7, 3.5] : kind === 'o' ? [1.8, 3] : [],
    pointRadius: 0,
    tension: 0.4,
    fill: false,
    segment: {
      borderColor: (ctx: any) => (ctx.p0DataIndex === 0 || ctx.p0DataIndex === n - 2 ? 'rgba(0,0,0,0)' : undefined),
    },
  };
}

function buildDatasets() {
  const initPts: { x: number; y: number }[] = [];
  const bestPts: { x: number; y: number }[] = [];
  const blackPts: { x: number; y: number }[] = [];
  const lines: any[] = [];
  PANELS.forEach((p) => {
    initPts.push({ x: p.c + initPos[p.c], y: 6 - p.r + initPos[p.r + 1] });
    bestPts.push({ x: p.c + bestPos[p.c], y: 6 - p.r + bestPos[p.r + 1] });
    if (p.k) for (let i = 0; i < p.k.length; i += 2) blackPts.push({ x: p.c + p.k[i], y: 6 - p.r + p.k[i + 1] });
    p.s.forEach((f) => lines.push(loopDataset(f, p.r, p.c, 's')));
    p.d.forEach((f) => lines.push(loopDataset(f, p.r, p.c, 'd')));
    p.o.forEach((f) => lines.push(loopDataset(f, p.r, p.c, 'o')));
  });
  return [
    { data: initPts, pointStyle: 'circle', pointRadius: 4.2, backgroundColor: '#0000ff', borderWidth: 0, showLine: false },
    { data: bestPts, pointStyle: 'cross', pointRadius: 7, borderColor: '#ff0000', backgroundColor: '#ff0000', pointBorderWidth: 3.2, borderWidth: 3.2, showLine: false },
    { data: blackPts, pointStyle: 'circle', pointRadius: 1.8, backgroundColor: '#000000', borderWidth: 0, showLine: false },
    ...lines,
  ];
}

export default function App() {
  const ref = useRef<HTMLCanvasElement | null>(null);
  useEffect(() => {
    if (!ref.current) return;
    const chart = new Chart(ref.current, {
      type: 'scatter',
      data: { datasets: buildDatasets() as any },
      options: {
        responsive: false,
        animation: false,
        events: [],
        layout: { padding: { left: 48, top: 6.5, right: 4.8, bottom: 39.7 } },
        plugins: { legend: { display: false }, tooltip: { enabled: false }, title: { display: false } },
        scales: {
          x: { type: 'linear', min: 0, max: 7, display: false },
          y: { type: 'linear', min: 0, max: 7, display: false },
        },
      },
      plugins: [overlay],
    });
    return () => chart.destroy();
  }, []);
  return (
    <div style={{ position: 'fixed', left: 0, top: 0, width: 860, height: 865, overflow: 'hidden', background: '#fff' }}>
      <canvas ref={ref} width={870} height={865} style={{ display: 'block' }} />
    </div>
  );
}
